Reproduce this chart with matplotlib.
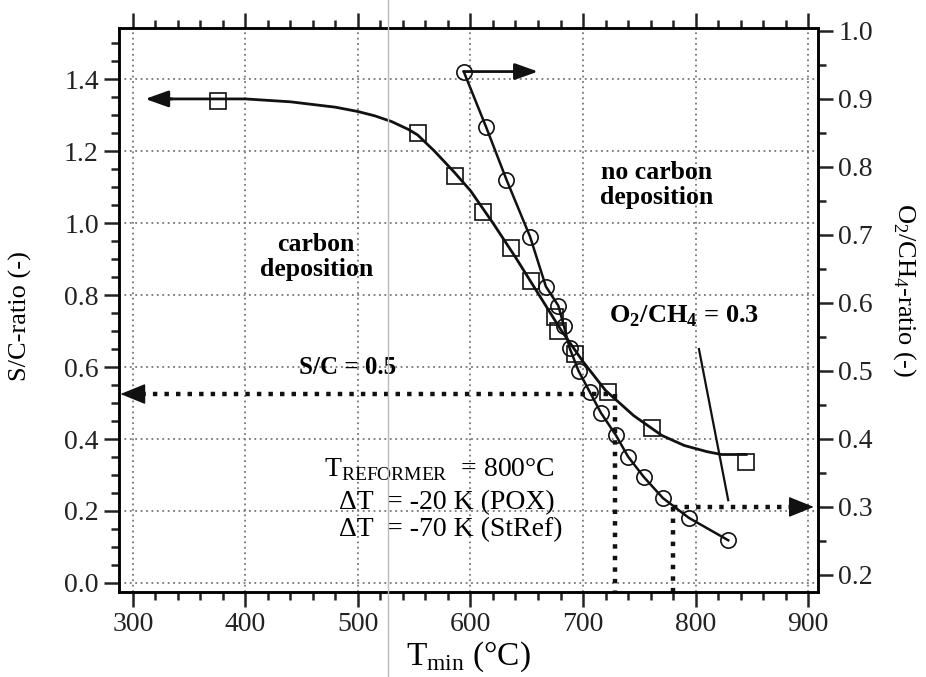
import numpy as np
import matplotlib as mpl
mpl.use('Agg')
import matplotlib.pyplot as plt
from matplotlib.ticker import MultipleLocator
from matplotlib.lines import Line2D

plt.rcParams['font.family'] = ['Liberation Serif', 'DejaVu Serif']
plt.rcParams['mathtext.fontset'] = 'custom'
plt.rcParams['mathtext.rm'] = 'Liberation Serif'
plt.rcParams['mathtext.bf'] = 'Liberation Serif:bold'

# S/C-ratio, squares (left axis)
sc_T = [376, 553, 586, 611, 636, 654, 675, 678, 693, 722, 761, 845]
sc_val = [1.34, 1.25, 1.13, 1.03, 0.93, 0.84, 0.74, 0.70, 0.635, 0.53, 0.43, 0.335]
# fitted curve through the squares
sc_fit_T = [330, 400, 440, 480, 500, 515, 530, 545, 553, 568, 586, 600, 620, 640, 660,
            680, 700, 720, 745, 770, 790, 810, 823, 845]
sc_fit_val = [1.345, 1.345, 1.337, 1.322, 1.31, 1.298, 1.282, 1.26, 1.245, 1.20, 1.14, 1.09,
              1.00, 0.905, 0.805, 0.705, 0.615, 0.535, 0.465, 0.41, 0.382, 0.365, 0.357, 0.357]

# O2/CH4-ratio, circles (right axis)
o2_T = [594, 614, 632, 653, 667, 678, 683, 688, 696, 706, 716, 729, 740, 754, 771, 794, 829]
o2_val = [0.94, 0.858, 0.781, 0.697, 0.624, 0.596, 0.566, 0.534, 0.50, 0.469, 0.438, 0.406,
          0.374, 0.344, 0.313, 0.284, 0.251]

# operating points
sc_point = (722, 0.525)
o2_point = (780, 0.30)

fig = plt.figure(figsize=(9.26, 6.77), dpi=100)
ax = fig.add_axes([0.1285, 0.1256, 0.7549, 0.833])
ax2 = ax.twinx()

lw_spine = 1.8
for a in (ax, ax2):
    for s in a.spines.values():
        s.set_linewidth(lw_spine)

ax.set_xlim(287.7, 908.8)
ax.set_ylim(-0.025, 1.542)
ax2.set_ylim(0.175, 1.004)

ax.xaxis.set_major_locator(MultipleLocator(100))
ax.xaxis.set_minor_locator(MultipleLocator(20))
ax.yaxis.set_major_locator(MultipleLocator(0.2))
ax.yaxis.set_minor_locator(MultipleLocator(0.05))
ax2.yaxis.set_major_locator(MultipleLocator(0.1))
ax2.yaxis.set_minor_locator(MultipleLocator(0.05))
ax.yaxis.set_major_formatter(mpl.ticker.FormatStrFormatter('%.1f'))
ax2.yaxis.set_major_formatter(mpl.ticker.FormatStrFormatter('%.1f'))
ax.set_yticks(np.arange(0, 1.41, 0.2))

ax.tick_params(which='both', direction='out', top=True, right=False,
               labelsize=20, width=lw_spine, colors='#222222')
ax.tick_params(which='major', length=11)
ax.tick_params(which='minor', length=6)
ax2.tick_params(which='both', direction='out', labelsize=20, width=lw_spine, colors='#222222')
ax2.tick_params(which='major', length=11)
ax2.tick_params(which='minor', length=6)

ax.grid(True, which='major', linestyle=(0, (1, 2)), color='#777777', linewidth=1.3)
ax.set_axisbelow(True)

# curves
ax.plot(sc_fit_T, sc_fit_val, color='#111111', lw=2.0, zorder=3)
ax.plot(sc_T, sc_val, linestyle='none', marker='s', markersize=11,
        markerfacecolor='none', markeredgecolor='#111111', markeredgewidth=1.2, zorder=4)
ax2.plot(o2_T, o2_val, color='#111111', lw=1.8, marker='o', markersize=11,
         markerfacecolor='none', markeredgecolor='#111111', markeredgewidth=1.2, zorder=4)

# arrows showing which axis each curve belongs to
ax.annotate('', xy=(311, sc_fit_val[0]), xytext=(335, sc_fit_val[0]),
            arrowprops=dict(arrowstyle='-|>,head_length=1.4,head_width=0.5',
                            color='#111111', lw=2, shrinkA=0, shrinkB=0))
ax2.annotate('', xy=(660, o2_val[0]), xytext=(o2_T[0], o2_val[0]),
             arrowprops=dict(arrowstyle='-|>,head_length=1.4,head_width=0.5',
                             color='#111111', lw=2, shrinkA=0, shrinkB=0))

# S/C = 0.5 operating line
dots = (0, (1, 1.6))
ax.plot([sc_point[0], 308], [sc_point[1], sc_point[1]], color='#111111', lw=3.2, linestyle=dots)
ax.plot([728, 728], [sc_point[1], -0.025], color='#111111', lw=3.2, linestyle=dots)
ax.annotate('', xy=(289, sc_point[1]), xytext=(308, sc_point[1]),
            arrowprops=dict(arrowstyle='-|>,head_length=1.6,head_width=0.65',
                            color='#111111', lw=1, shrinkA=0, shrinkB=0))

# O2/CH4 = 0.3 operating line
ax2.plot([o2_point[0], 886], [o2_point[1], o2_point[1]], color='#111111', lw=3.2, linestyle=dots)
ax2.plot([o2_point[0], o2_point[0]], [o2_point[1], 0.175], color='#111111', lw=3.2, linestyle=dots)
ax2.annotate('', xy=(905, o2_point[1]), xytext=(886, o2_point[1]),
             arrowprops=dict(arrowstyle='-|>,head_length=1.6,head_width=0.65',
                             color='#111111', lw=1, shrinkA=0, shrinkB=0))
ax.plot([803, 829], [0.65, 0.23], color='#111111', lw=1.6)

# texts
ax.text(463, 0.905, 'carbon\ndeposition', fontsize=18.5, fontweight='bold',
        ha='center', va='center', linespacing=1.1)
ax.text(765, 1.105, 'no carbon\ndeposition', fontsize=18.5, fontweight='bold',
        ha='center', va='center', linespacing=1.1)
ax.text(448, 0.60, 'S/C = 0.5', fontsize=18, fontweight='bold', ha='left', va='center')
ax.text(723, 0.74, r'O$_\mathbf{2}$/CH$_\mathbf{4}$ = 0.3', fontsize=19, fontweight='bold',
        ha='left', va='center')
ax.text(470, 0.314, r'T$_\mathregular{REFORMER}$  = 800°C', fontsize=20, ha='left', va='center')
ax.text(483, 0.222, 'ΔT  = -20 K (POX)', fontsize=20, ha='left', va='center')
ax.text(483, 0.147, 'ΔT  = -70 K (StRef)', fontsize=20, ha='left', va='center')

ax.set_xlabel(r'T$_\mathregular{min}$ (°C)', fontsize=24, labelpad=2)
ax.set_ylabel('S/C-ratio (-)', fontsize=19)
ax.yaxis.set_label_coords(-0.125, 0.49)
ax2.set_ylabel(r'O$_\mathregular{2}$/CH$_\mathregular{4}$-ratio (-)', fontsize=19, rotation=270)
ax2.yaxis.set_label_coords(1.143, 0.535)

# faint scan fold line
fig.add_artist(Line2D([0.419, 0.419], [0, 1], transform=fig.transFigure,
                      color='#bbbbbb', lw=1))

plt.savefig('out.png', dpi=100)
